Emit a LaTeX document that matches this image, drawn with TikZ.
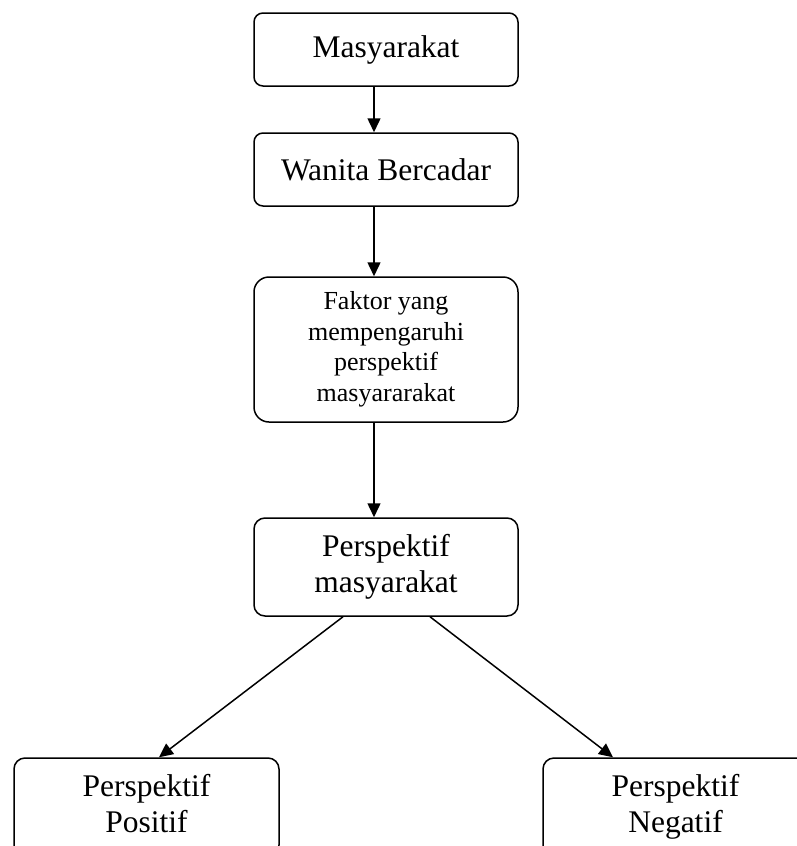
\documentclass[tikz,border=0pt]{standalone}
\usepackage{fontspec}
\setmainfont{Liberation Serif}
\usetikzlibrary{arrows.meta}
\begin{document}
\begin{tikzpicture}[x=1pt,y=-1pt,
  box/.style={draw=black, line width=1.5pt, rectangle, inner sep=0pt, align=center,
    minimum width=264pt, font=\fontsize{31.5}{36}\selectfont},
  arr/.style={draw=black, line width=1.5pt, -{Triangle[width=13pt,length=14pt]}}]
\clip (0,0) rectangle (797,846);
\fill[white] (0,0) rectangle (797,846);
\node[box, rounded corners=9pt, minimum height=73pt] (m) at (386,49.5) {Masyarakat};
\node[box, rounded corners=9pt, minimum height=73pt] (w) at (386,169.5) {Wanita Bercadar};
\node[box, rounded corners=15pt, minimum height=145pt, font=\fontsize{26}{30.5}\selectfont] (f) at (386,349.5) {Faktor yang\\mempengaruhi\\perspektif\\masyararakat};
\node[box, rounded corners=11pt, minimum height=98pt] (p) at (386,567) {Perspektif\\masyarakat};
\node[box, rounded corners=11pt, minimum height=98pt, minimum width=265pt] (pos) at (146.5,807) {Perspektif\\Positif\vphantom{g}};
\node[box, rounded corners=11pt, minimum height=98pt, minimum width=265pt] (neg) at (675.5,807) {Perspektif\\Negatif};
\draw[arr] ([xshift=-12pt]m.south) -- ([xshift=-12pt]w.north);
\draw[arr] ([xshift=-12pt]w.south) -- ([xshift=-12pt]f.north);
\draw[arr] ([xshift=-12pt]f.south) -- ([xshift=-12pt]p.north);
\draw[arr] ([xshift=-43pt]p.south) -- ([xshift=12.5pt]pos.north);
\draw[arr] ([xshift=44pt]p.south) -- ([xshift=-62.5pt]neg.north);
\end{tikzpicture}
\end{document}
